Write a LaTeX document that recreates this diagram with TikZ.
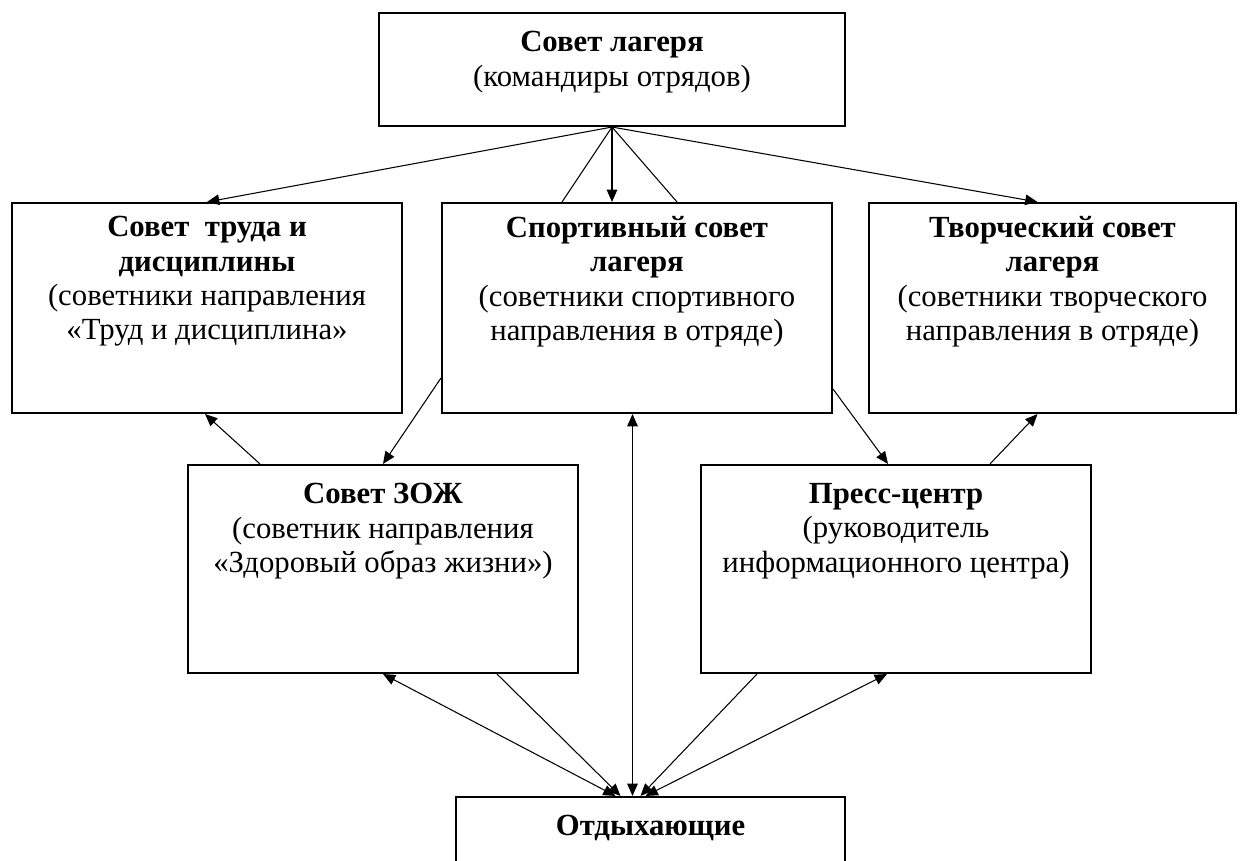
\documentclass[tikz,border=0pt]{standalone}
\usepackage{fontspec}
\setmainfont{Liberation Serif}
\usetikzlibrary{calc,arrows.meta}
\tikzset{
	box/.style={draw,line width=1.2pt,inner sep=0pt},
	txt/.style={anchor=north,align=center,inner sep=0pt,font=\fontsize{17.5}{19.6}\selectfont},
	conn/.style={line width=0.6pt},
	arr/.style={conn,-{Triangle[length=7pt,width=6pt]}},
	dblarr/.style={conn,{Triangle[length=7pt,width=6pt]}-{Triangle[length=7pt,width=6pt]}}
}

\begin{document}
\begin{tikzpicture}[x=0.02cm,y=-0.02cm]
\useasboundingbox (0,0) rectangle (1248,861);
\clip (0,0) rectangle (1248,861);
\node [box,minimum width=9.32cm,minimum height=2.26cm] (sovet) at (612,69.5) {};
\node [box,minimum width=7.8cm,minimum height=4.2cm] (trud) at (207,308) {};
\node [box,minimum width=7.8cm,minimum height=4.2cm] (sport) at (637,308) {};
\node [box,minimum width=7.34cm,minimum height=4.2cm] (tvor) at (1052.5,308) {};
\node [box,minimum width=7.8cm,minimum height=4.16cm] (zozh) at (383,569) {};
\node [box,minimum width=7.8cm,minimum height=4.16cm] (press) at (896,569) {};
\node [box,minimum width=7.78cm,minimum height=2.6cm] (otdykh) at (650.5,862) {};

\node [txt] (sovet-t) at ($(sovet.north)+(0,19)$) {\textbf{Совет лагеря}\\(командиры отрядов)};
\node [txt] (trud-t) at ($(trud.north)+(0,14)$) {\textbf{Совет\ \ труда и}\\\textbf{дисциплины}\\(советники направления\\«Труд и дисциплина»};
\node [txt] (sport-t) at ($(sport.north)+(0,14)$) {\textbf{Спортивный совет}\\\textbf{лагеря}\\(советники спортивного\\направления в отряде)};
\node [txt] (tvor-t) at ($(tvor.north)+(0,14)$) {\textbf{Творческий совет}\\\textbf{лагеря}\\(советники творческого\\направления в отряде)};
\node [txt] (zozh-t) at ($(zozh.north)+(0,19)$) {\textbf{Совет ЗОЖ}\\(советник направления\\«Здоровый образ жизни»)};
\node [txt] (press-t) at ($(press.north)+(0,19)$) {\textbf{Пресс-центр}\\(руководитель\\информационного центра)};
\node [txt] (otdykh-t) at ($(otdykh.north)+(0,19)$) {\textbf{Отдыхающие}};

\draw [arr] (sovet.south) -- (trud.north);
\draw [arr] (sovet.south) -- (sovet.south |- sport.north);
\draw [arr] (sovet.south) -- ($(tvor.north)+(-15,0)$);
\foreach \dx in {-75,40}
{
	\draw [conn] (sovet.south) -- ($(sport.north)+(\dx,0)$);
}

\draw [arr] ($(zozh.north)+(-123,0)$) -- ($(trud.south)+(-2,0)$);
\draw [arr] ($(sport.west)+(0,70)$) -- (zozh.north);
\draw [arr] ($(sport.east)+(0,81)$) -- ($(press.north)+(-8,0)$);
\draw [arr] ($(press.north)+(94,0)$) -- ($(tvor.south)+(-15,0)$);

\coordinate (hub) at ($(otdykh.north)+(-18,0)$);
\draw [dblarr] ($(otdykh.north)+(-35,0)$) -- (zozh.south);
\draw [arr] ($(zozh.south)+(114,0)$) -- ($(otdykh.north)+(-30,0)$);
\draw [dblarr] (hub) -- (hub |- sport.south);
\draw [arr] ($(press.south)+(-139,0)$) -- ($(otdykh.north)+(-10,0)$);
\draw [dblarr] ($(otdykh.north)+(-5,0)$) -- ($(press.south)+(-9,0)$);
\end{tikzpicture}
\end{document}
